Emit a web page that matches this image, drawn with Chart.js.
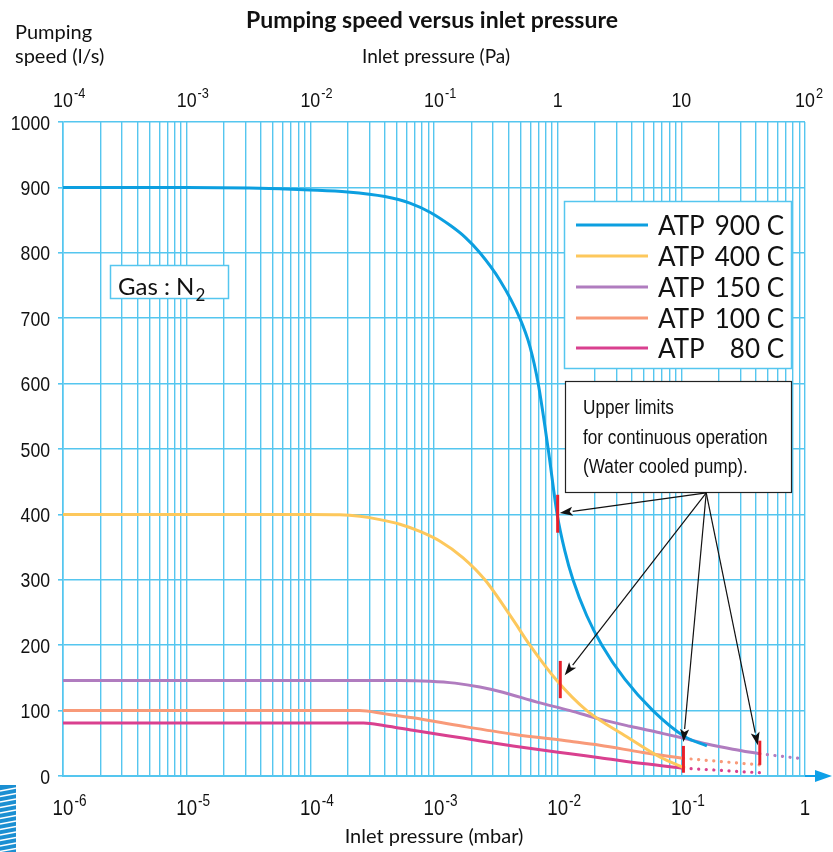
<!DOCTYPE html>
<html>
<head>
<meta charset="utf-8">
<script src="https://cdn.jsdelivr.net/npm/chart.js@4.4.1/dist/chart.umd.min.js"></script>
<style>
  html, body { margin: 0; padding: 0; background: #fff; }
</style>
</head>
<body>
<canvas id="chart" width="833" height="852"></canvas>
<script>
// values: pressure in mbar, pumping speed in l/s
const atp900P = [1e-6, 1e-5, 3.2e-5, 1e-4, 2e-4, 4e-4, 6.38e-4, 9.27e-4, 1.35e-3, 1.78e-3, 2.35e-3, 3.41e-3, 4.94e-3, 5.96e-3, 6.96e-3, 8.38e-3, 9.91e-3, 1.14e-2, 1.33e-2, 1.72e-2, 2.28e-2, 3.49e-2, 5.89e-2, 0.107, 0.161]
const atp900S = [900, 900, 899, 896, 893, 886, 876, 862, 842, 824, 800, 758, 700, 657, 600, 500, 400, 345, 300, 245, 200, 148, 100, 60, 46]

const atp400P = [1e-6, 1e-4, 1.73e-4, 2.52e-4, 3.66e-4, 5.3e-4, 7.69e-4, 1.12e-3, 1.71e-3, 2.58e-3, 4.35e-3, 5.96e-3, 9.84e-3, 1.72e-2, 3.62e-2, 6.7e-2, 0.107]
const atp400S = [400, 400, 399.5, 397, 392, 385, 374, 359, 334, 300, 239, 200, 146, 100, 60, 29, 12]

const atp150P = [1e-6, 5.3e-4, 9.3e-4, 1.48e-3, 2.35e-3, 3.6e-3, 6.8e-3, 1.26e-2, 2.19e-2, 3.84e-2, 6.7e-2, 0.103, 0.161, 0.261, 0.431]
const atp150S = [146, 146, 145, 142, 136, 128, 113, 100, 87, 76, 66, 58, 49, 41, 34]

const atp100P = [1e-6, 2.5e-4, 4e-4, 6.74e-4, 1.71e-3, 4.35e-3, 1.26e-2, 2.19e-2, 4.89e-2, 0.104]
const atp100S = [100, 100, 95, 89, 76, 64, 53, 47, 36, 27]

const atp80P = [1e-6, 2.7e-4, 4e-4, 6.74e-4, 1.71e-3, 4.35e-3, 1.26e-2, 2.19e-2, 4.89e-2, 0.104]
const atp80S = [81, 81, 77, 70, 58, 46, 34, 28, 19, 12]

// dotted continuation beyond the limits
const dot150P = [0.431, 1]
const dot150S = [34, 26]
const dot100P = [0.104, 0.431]
const dot100S = [27, 17]
const dot80P = [0.104, 0.431]
const dot80S = [12, 5]

// red limit markers
const limitP = [1e-2, 1.05e-2, 0.104, 0.431]
const limitLo = [372, 119, 5, 17]
const limitHi = [430, 176, 46, 54]

// arrows from the note box to the limits
const arrowFromP = 0.159
const arrowFromS = 433
const arrowToP = [1.04e-2, 1.14e-2, 0.104, 0.415]
const arrowToS = [402, 154, 52, 47]

const seriesNames = ["ATP 900 C", "ATP 400 C", "ATP 150 C", "ATP 100 C", "ATP 80 C"]
const mbarDecades = [-6, -5, -4, -3, -2, -1, 0]
const paDecades = [-4, -3, -2, -1, 0, 1, 2]
const speedTicks = [0, 100, 200, 300, 400, 500, 600, 700, 800, 900, 1000]

const colors = ["#0c9fe0", "#fdc85c", "#b07cbf", "#f89a79", "#d9408f"]
const gridColor = "#55c6ef"
const redColor = "#e8202b"
const helv = '"Liberation Sans", Arial, sans-serif'
const sans = 'Lato, "Open Sans", sans-serif'

const zip = (xs, ys) => xs.map((x, i) => ({ x: x, y: ys[i] }))

function curve(p, s, color, order) {
  return {
    data: zip(p, s),
    borderColor: color,
    borderWidth: 3,
    pointRadius: 0,
    fill: false,
    cubicInterpolationMode: "monotone",
    order: order,
  }
}

function dotted(p, s, color) {
  return {
    data: zip(p, s),
    borderColor: color,
    borderWidth: 3.2,
    borderDash: [0.1, 7.5],
    borderCapStyle: "round",
    pointRadius: 0,
    fill: false,
    order: 6,
  }
}

const datasets = [
  curve(atp900P, atp900S, colors[0], 1),
  curve(atp400P, atp400S, colors[1], 2),
  curve(atp150P, atp150S, colors[2], 3),
  curve(atp100P, atp100S, colors[3], 4),
  curve(atp80P, atp80S, colors[4], 5),
  dotted(dot150P, dot150S, colors[2]),
  dotted(dot100P, dot100S, colors[3]),
  dotted(dot80P, dot80S, colors[4]),
]
limitP.forEach((p, i) => {
  datasets.push({
    data: [{ x: p, y: limitLo[i] }, { x: p, y: limitHi[i] }],
    borderColor: redColor,
    borderWidth: 3,
    pointRadius: 0,
    order: 0,
  })
})

function logTicks(minExp, maxExp) {
  const out = []
  for (let e = minExp; e < maxExp; e++) {
    for (let m = 1; m < 10; m++) out.push({ value: m * Math.pow(10, e) })
  }
  out.push({ value: Math.pow(10, maxExp) })
  return out
}

// condensed text: the reference uses a narrow grotesque
function narrowText(ctx, text, x, y, size, align, squeeze) {
  ctx.save()
  ctx.font = size + "px " + helv
  const w = ctx.measureText(text).width * squeeze
  let left = x
  if (align === "center") left = x - w / 2
  if (align === "right") left = x - w
  ctx.translate(left, y)
  ctx.scale(squeeze, 1)
  ctx.textAlign = "left"
  ctx.fillText(text, 0, 0)
  ctx.restore()
  return w
}

function drawPow(ctx, cx, baseY, exp, size) {
  const base = exp === 0 ? "1" : "10"
  const sup = exp === 0 || exp === 1 ? "" : String(exp)
  const w = narrowText(ctx, base, cx, baseY, size, "center", 0.85)
  if (sup) narrowText(ctx, sup, cx + w / 2 + 1, baseY - size * 0.42, Math.round(size * 0.72), "left", 0.85)
}

function drawArrow(ctx, x1, y1, x2, y2) {
  const a = Math.atan2(y2 - y1, x2 - x1)
  const len = 13, half = 4.5
  const bx = x2 - len * Math.cos(a), by = y2 - len * Math.sin(a)
  ctx.beginPath()
  ctx.moveTo(x1, y1)
  ctx.lineTo(bx, by)
  ctx.stroke()
  ctx.beginPath()
  ctx.moveTo(x2, y2)
  ctx.lineTo(bx + half * Math.sin(a), by - half * Math.cos(a))
  ctx.lineTo(bx + 3 * Math.cos(a), by + 3 * Math.sin(a))
  ctx.lineTo(bx - half * Math.sin(a), by + half * Math.cos(a))
  ctx.closePath()
  ctx.fill()
}

const overlay = {
  id: "overlay",
  afterDraw(chart) {
    const ctx = chart.ctx
    const xs = chart.scales.x
    const xt = chart.scales.x2
    const ys = chart.scales.y
    const area = chart.chartArea
    ctx.save()

    // axis arrow at the bottom right
    ctx.strokeStyle = "#0ea0e8"
    ctx.fillStyle = "#0ea0e8"
    ctx.lineWidth = 2
    ctx.beginPath()
    ctx.moveTo(area.right, area.bottom)
    ctx.lineTo(817, area.bottom)
    ctx.stroke()
    ctx.beginPath()
    ctx.moveTo(815, area.bottom - 6)
    ctx.lineTo(832, area.bottom)
    ctx.lineTo(815, area.bottom + 6)
    ctx.closePath()
    ctx.fill()

    // titles
    ctx.fillStyle = "#111"
    ctx.textBaseline = "alphabetic"
    ctx.textAlign = "center"
    ctx.font = "bold 23px " + sans
    ctx.fillText("Pumping speed versus inlet pressure", 432, 28)
    ctx.font = "19px " + sans
    ctx.fillText("Inlet pressure (Pa)", 436, 63)
    ctx.font = "20px " + sans
    ctx.fillText("Inlet pressure (mbar)", 434, 843)
    ctx.textAlign = "left"
    ctx.fillText("Pumping", 15, 39)
    ctx.fillText("speed (l/s)", 15, 63)

    // speed labels
    speedTicks.forEach(v => narrowText(ctx, String(v), 50, ys.getPixelForValue(v) + 7.5, 21, "right", 0.84))

    // decade labels
    paDecades.forEach(e => drawPow(ctx, xt.getPixelForValue(Math.pow(10, e)), 107, e, 21))
    mbarDecades.forEach(e => drawPow(ctx, xs.getPixelForValue(Math.pow(10, e)), 815, e, 22))

    // gas box
    ctx.fillStyle = "#fff"
    ctx.strokeStyle = gridColor
    ctx.lineWidth = 1.5
    ctx.fillRect(110, 265, 119, 34)
    ctx.strokeRect(110.5, 265.5, 118, 33)
    ctx.fillStyle = "#111"
    ctx.font = "24px " + sans
    ctx.textAlign = "left"
    ctx.fillText("Gas : N", 118, 295)
    const nw = ctx.measureText("Gas : N").width
    ctx.font = "17px " + sans
    ctx.fillText("2", 118 + nw + 1, 301)

    // legend box
    ctx.fillStyle = "#fff"
    ctx.fillRect(564, 201, 228, 168)
    ctx.strokeStyle = gridColor
    ctx.strokeRect(564.5, 201.5, 227, 167)
    const rowY = [225, 256, 287, 318, 348]
    seriesNames.forEach((name, i) => {
      ctx.strokeStyle = colors[i]
      ctx.lineWidth = 3
      ctx.beginPath()
      ctx.moveTo(576, rowY[i])
      ctx.lineTo(648, rowY[i])
      ctx.stroke()
      ctx.fillStyle = "#111"
      ctx.font = "26px " + sans
      const parts = name.split(" ")
      ctx.textAlign = "left"
      ctx.fillText(parts[0], 658, rowY[i] + 10)
      ctx.textAlign = "right"
      ctx.fillText(parts.slice(1).join(" "), 784, rowY[i] + 10)
    })

    // note box
    ctx.fillStyle = "#fff"
    ctx.fillRect(565, 381, 227, 112)
    ctx.strokeStyle = "#222"
    ctx.lineWidth = 1.2
    ctx.strokeRect(565.5, 381.5, 226, 111)
    ctx.fillStyle = "#111"
    narrowText(ctx, "Upper limits", 583, 414, 20, "left", 0.86)
    narrowText(ctx, "for continuous operation", 583, 444, 20, "left", 0.86)
    narrowText(ctx, "(Water cooled pump).", 583, 473, 20, "left", 0.86)

    // arrows
    ctx.strokeStyle = "#111"
    ctx.fillStyle = "#111"
    ctx.lineWidth = 1.2
    const ax = xs.getPixelForValue(arrowFromP)
    const ay = ys.getPixelForValue(arrowFromS)
    arrowToP.forEach((p, i) => {
      drawArrow(ctx, ax, ay, xs.getPixelForValue(p), ys.getPixelForValue(arrowToS[i]))
    })

    // corner logo
    ctx.fillStyle = "#1b8fd2"
    ctx.fillRect(0, 785, 16, 67)
    ctx.strokeStyle = "#fff"
    ctx.lineWidth = 1.4
    for (let y = 789; y < 852; y += 5.5) {
      ctx.beginPath()
      ctx.moveTo(0, y + 2)
      ctx.lineTo(16, y - 1)
      ctx.stroke()
    }
    ctx.restore()
  },
}

new Chart(document.getElementById("chart"), {
  type: "line",
  data: { datasets: datasets },
  options: {
    responsive: false,
    animation: false,
    events: [],
    layout: { padding: { left: 0, right: 28, top: 0, bottom: 0 } },
    plugins: { legend: { display: false }, tooltip: { enabled: false } },
    scales: {
      x: {
        type: "logarithmic",
        position: "bottom",
        min: 1e-6,
        max: 1,
        afterBuildTicks: s => { s.ticks = logTicks(-6, 0) },
        afterFit: s => { s.height = 76 },
        ticks: { display: false },
        grid: { color: gridColor, lineWidth: 1.4, drawTicks: false },
        border: { color: gridColor, width: 2 },
      },
      x2: {
        type: "logarithmic",
        position: "top",
        min: 1e-4,
        max: 100,
        afterFit: s => { s.height = 122 },
        ticks: { display: false },
        grid: { display: false },
        border: { display: false },
      },
      y: {
        min: 0,
        max: 1000,
        afterFit: s => { s.width = 63 },
        ticks: { stepSize: 100, display: false },
        grid: { color: gridColor, lineWidth: 1.6, tickLength: 5 },
        border: { color: gridColor, width: 1.6 },
      },
    },
  },
  plugins: [overlay],
})
</script>
</body>
</html>
